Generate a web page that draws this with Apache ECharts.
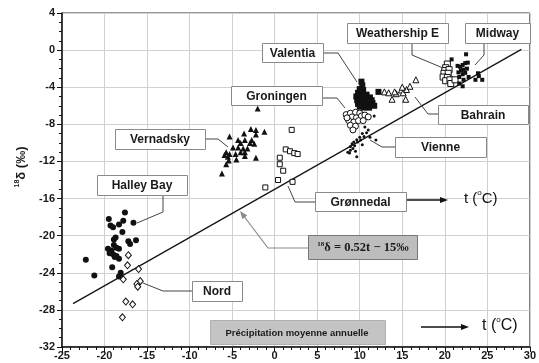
<!DOCTYPE html>
<html>
<head>
<meta charset="utf-8">
<script src="https://cdn.jsdelivr.net/npm/echarts@6/dist/echarts.min.js"></script>
<style>
  html, body { margin: 0; padding: 0; background: #fff; }
  #chart { width: 539px; height: 363px; }
</style>
</head>
<body>
<div id="chart"></div>
<script>
// Mean annual temperature (°C) vs. δ18O of precipitation (‰), by station
const xTicks = { min: -25, max: 30, step: 5 };
const yTicks = { min: -32, max: 4, step: 4 };

const halleyBay = [[-17.6,-17.5],[-19.5,-18.2],[-17.8,-18.4],[-16.6,-18.6],[-19.3,-18.9],[-19.0,-19.1],[-18.3,-18.8],
  [-17.9,-19.6],[-18.9,-20.4],[-18.7,-20.2],[-17.2,-20.6],[-16.3,-20.5],[-17.0,-20.9],[-19.6,-21.4],[-19.2,-21.6],
  [-18.6,-21.3],[-18.3,-21.4],[-19.0,-22.0],[-18.6,-22.2],[-18.3,-22.5],[-18.8,-22.3],[-22.2,-22.6],[-19.1,-23.4],
  [-18.1,-24.0],[-18.3,-24.4],[-21.2,-24.3],[-18.9,-21.0],[-19.4,-21.9]];
const nord = [[-17.2,-22.1],[-17.3,-23.2],[-16.0,-23.6],[-17.8,-24.7],[-15.8,-24.9],[-16.2,-25.2],[-16.1,-25.5],
  [-17.5,-27.1],[-16.7,-27.4],[-17.9,-28.8]];
const vernadsky = [[-2.0,-6.3],[-5.3,-9.3],[-2.8,-8.5],[-2.2,-8.6],[-1.2,-8.8],[-3.6,-9.0],[-2.2,-9.1],[-4.3,-9.7],
  [-3.5,-9.7],[-2.7,-9.7],[-4.0,-10.0],[-2.9,-10.0],[-2.4,-10.1],[-4.9,-10.5],[-4.3,-10.5],[-3.7,-10.6],[-3.2,-10.6],
  [-4.0,-11.0],[-3.5,-11.0],[-5.7,-11.0],[-5.3,-11.2],[-4.6,-11.2],[-5.9,-11.3],[-5.5,-11.5],[-3.5,-11.4],[-5.4,-11.9],
  [-4.5,-11.8],[-2.2,-11.6],[-5.7,-12.3],[-6.2,-13.3]];
const gronnedal = [[2.0,-8.6],[1.3,-10.7],[1.8,-10.9],[2.3,-11.1],[2.7,-11.2],[0.6,-11.6],[0.6,-12.3],[1.0,-13.0],
  [0.4,-14.0],[-1.1,-14.8],[2.1,-14.2]];
const groningen = [[8.4,-6.95],[8.9,-6.8],[9.5,-6.7],[10.0,-6.8],[9.1,-7.2],[9.6,-7.3],[10.2,-7.1],[8.7,-7.6],
  [9.3,-7.75],[9.85,-7.6],[8.9,-8.1],[9.5,-8.2],[9.2,-8.6],[10.6,-7.0],[11.0,-7.2],[8.5,-7.3],[10.4,-7.6]];
const valentia = [[10.2,-3.4],[10.3,-3.8],[10.0,-4.2],[10.4,-4.3],[9.8,-4.6],[10.3,-4.7],[10.8,-4.8],[9.6,-5.0],
  [10.1,-5.0],[10.6,-5.1],[11.2,-5.1],[9.7,-5.4],[10.2,-5.5],[10.7,-5.5],[11.4,-5.4],[9.8,-5.8],[10.3,-5.9],
  [10.9,-5.8],[11.5,-5.7],[10.5,-6.2],[11.1,-6.2],[11.7,-6.0],[10.0,-6.1],[12.2,-4.5]];
const vienne = [[10.6,-8.3],[11.0,-8.6],[11.7,-7.1],[10.3,-9.0],[10.8,-8.9],[10.0,-9.4],[10.5,-9.3],[9.65,-9.65],
  [10.1,-9.7],[9.3,-9.9],[9.75,-9.9],[9.1,-10.1],[9.4,-10.3],[8.9,-10.4],[9.2,-10.6],[8.9,-10.8],[8.8,-11.1],
  [9.65,-11.5],[11.9,-9.7],[11.2,-9.4],[9.5,-10.9],[10.3,-10.2],[8.6,-11.0]];
const bahrain = [[12.9,-4.5],[13.4,-4.6],[13.8,-5.3],[14.3,-4.7],[14.9,-4.3],[15.1,-4.6],[15.5,-4.25],[15.9,-3.9],
  [16.6,-3.2],[15.4,-5.3],[14.1,-4.5],[15.0,-4.0]];
const weathershipE = [[20.3,-1.5],[20.1,-1.9],[20.0,-2.2],[20.5,-2.1],[19.9,-2.5],[20.4,-2.5],[19.8,-2.9],[20.3,-2.95],
  [20.1,-3.3],[20.6,-3.2],[20.7,-3.6],[21.2,-3.2]];
const midway = [[20.8,-1.0],[22.5,-0.45],[21.5,-1.7],[21.8,-1.8],[22.1,-1.6],[22.4,-1.4],[22.7,-1.35],[21.9,-2.2],
  [22.2,-2.1],[22.6,-2.0],[21.6,-2.4],[22.4,-2.45],[22.1,-2.6],[21.7,-2.9],[23.9,-2.5],[22.2,-3.2],[23.6,-3.2],
  [24.4,-3.2],[21.7,-3.6],[22.1,-3.9],[22.8,-2.9],[24.0,-2.8]];

// Regression: δ18O = 0.52 t − 15 ‰
const fit = { slope: 0.52, intercept: -15, tFrom: -23.7, tTo: 29 };
const fitLine = [fit.tFrom, fit.tTo].map(t => [t, fit.slope * t + fit.intercept]);

const INK = '#111';
const LABEL_FONT = '"Liberation Sans", Arial, sans-serif';

function filled(name, data, symbol, size) {
  return { name, type: 'scatter', data, symbol, symbolSize: size, z: 3,
    itemStyle: { color: INK, opacity: 1 } };
}
function hollow(name, data, symbol, size) {
  return { name, type: 'scatter', data, symbol, symbolSize: size, z: 3,
    itemStyle: { color: '#fff', borderColor: INK, borderWidth: 1, opacity: 1 } };
}

const chart = echarts.init(document.getElementById('chart'), null, { renderer: 'canvas' });

// Station label boxes: [text, x1, y1, x2, y2]
const boxes = [
  ['Vernadsky', 115, 129, 205, 149],
  ['Halley Bay', 97, 175, 187, 195],
  ['Nord', 192, 281, 242, 301],
  ['Grønnedal', 315, 192, 406, 211],
  ['Valentia', 262, 43, 323, 62],
  ['Groningen', 231, 86, 322, 105],
  ['Weathership E', 347, 23, 448, 43],
  ['Midway', 465, 23, 530, 43],
  ['Bahrain', 438, 105, 528, 124],
  ['Vienne', 395, 137, 486, 157]
];
// Leader lines from boxes to their clusters
const leaders = [
  [[205,139],[218,139],[228,147]],
  [[163,195],[163,212],[137,223]],
  [[192,291],[163,291],[143,283]],
  [[315,202],[295,202],[288,186]],
  [[323,53],[338,53],[357,82]],
  [[322,98],[337,98],[345,108]],
  [[412,43],[412,55],[443,68]],
  [[484,43],[484,55],[475,65]],
  [[438,114],[428,114],[415,97]],
  [[395,147],[382,147],[370,140]]
];

function arrowHead(tip, from, len, half, color) {
  const dx = tip[0] - from[0], dy = tip[1] - from[1];
  const L = Math.hypot(dx, dy), ux = dx / L, uy = dy / L;
  const bx = tip[0] - ux * len, by = tip[1] - uy * len;
  return { type: 'polygon', z: 10, silent: true,
    shape: { points: [tip, [bx - uy * half, by + ux * half], [bx + uy * half, by - ux * half]] },
    style: { fill: color } };
}

const graphics = [];
boxes.forEach(([text, x1, y1, x2, y2]) => {
  graphics.push({ type: 'rect', z: 10, silent: true,
    shape: { x: x1 + 0.5, y: y1 + 0.5, width: x2 - x1, height: y2 - y1 },
    style: { fill: '#fff', stroke: '#8a8a8a', lineWidth: 1 } });
  graphics.push({ type: 'text', z: 11, silent: true,
    style: { text, x: (x1 + x2) / 2, y: (y1 + y2) / 2 + 1, align: 'center', verticalAlign: 'middle',
      font: 'bold 12px ' + LABEL_FONT, fill: '#1a1a1a' } });
});
leaders.forEach(pts => {
  graphics.push({ type: 'polyline', z: 9, silent: true, shape: { points: pts },
    style: { stroke: '#444', lineWidth: 1, fill: null } });
});

// Equation box with its grey pointer
graphics.push({ type: 'polyline', z: 9, silent: true, shape: { points: [[308,248],[268,248],[243,215]] },
  style: { stroke: '#8a8a8a', lineWidth: 1.2, fill: null } });
graphics.push(arrowHead([240,211], [268,248], 8, 3, '#8a8a8a'));
graphics.push({ type: 'rect', z: 10, silent: true, shape: { x: 308.5, y: 235.5, width: 109, height: 24 },
  style: { fill: '#bdbdbd', stroke: '#777', lineWidth: 1 } });
graphics.push({ type: 'text', z: 11, silent: true,
  style: { text: '{s|18}{m|δ = 0.52t − 15‰}', x: 363, y: 248, align: 'center', verticalAlign: 'middle',
    rich: {
      s: { font: 'bold 7px "Liberation Serif", serif', fill: '#1a1a1a', verticalAlign: 'top', padding: [0, 0, 8, 0] },
      m: { font: 'bold 12.5px "Liberation Serif", serif', fill: '#1a1a1a' }
    } } });

// Annual-mean caption box
graphics.push({ type: 'rect', z: 10, silent: true, shape: { x: 210.5, y: 320.5, width: 175, height: 24 },
  style: { fill: '#c4c4c4', stroke: '#b0b0b0', lineWidth: 1 } });
graphics.push({ type: 'text', z: 11, silent: true,
  style: { text: 'Précipitation moyenne annuelle', x: 297, y: 333, align: 'center', verticalAlign: 'middle',
    font: 'bold 9.5px ' + LABEL_FONT, fill: '#1a1a1a' } });

// Temperature direction arrows
function tArrow(x1, x2, y, tx, size) {
  graphics.push({ type: 'line', z: 9, silent: true, shape: { x1, y1: y, x2: x2 - 6, y2: y },
    style: { stroke: '#111', lineWidth: 1.3 } });
  graphics.push(arrowHead([x2, y], [x1, y], 8, 3, '#111'));
  graphics.push({ type: 'text', z: 11, silent: true,
    style: { text: '{a|t (}{o|o}{a|C)}', x: tx, y: y - 1, align: 'left', verticalAlign: 'middle',
      rich: {
        a: { font: size + 'px ' + LABEL_FONT, fill: '#111' },
        o: { font: Math.round(size * 0.5) + 'px ' + LABEL_FONT, fill: '#111', verticalAlign: 'top', padding: [0, 0, 13, 0] }
      } } });
}
tArrow(407, 448, 200, 464, 15);
tArrow(421, 469, 327, 482, 16);

// Y axis title
graphics.push({ type: 'text', z: 11, silent: true, x: 21, y: 167, rotation: Math.PI / 2,
  style: { text: '{s|18}{m|δ (‰)}', x: 0, y: 0, align: 'center', verticalAlign: 'middle',
    rich: {
      s: { font: 'bold 7px ' + LABEL_FONT, fill: '#1a1a1a', verticalAlign: 'top', padding: [0, 0, 8, 0] },
      m: { font: 'bold 13px ' + LABEL_FONT, fill: '#1a1a1a' }
    } } });

const option = {
  animation: false,
  backgroundColor: '#fff',
  grid: { left: 62, right: 5, top: 13, bottom: 16, show: true, borderColor: '#333', borderWidth: 1 },
  xAxis: {
    type: 'value', min: xTicks.min, max: xTicks.max, interval: xTicks.step,
    axisLine: { onZero: false, lineStyle: { color: '#111', width: 1.5 } },
    axisTick: { length: 5, lineStyle: { color: '#111' } },
    minorTick: { show: true, splitNumber: 5, length: 3, lineStyle: { color: '#111' } },
    splitLine: { lineStyle: { color: '#d0d0d0', width: 1 } },
    axisLabel: { margin: 3, color: '#1a1a1a', fontWeight: 'bold', fontSize: 11, fontFamily: LABEL_FONT }
  },
  yAxis: {
    type: 'value', min: yTicks.min, max: yTicks.max, interval: yTicks.step,
    axisLine: { onZero: false, lineStyle: { color: '#111', width: 1.5 } },
    axisTick: { length: 5, lineStyle: { color: '#111' } },
    minorTick: { show: true, splitNumber: 4, length: 3, lineStyle: { color: '#111' } },
    splitLine: { lineStyle: { color: '#d0d0d0', width: 1 } },
    axisLabel: { margin: 7, color: '#1a1a1a', fontWeight: 'bold', fontSize: 11, fontFamily: LABEL_FONT }
  },
  series: [
    { name: 'fit', type: 'line', data: fitLine, showSymbol: false, z: 2,
      lineStyle: { color: '#111', width: 1.2 } },
    filled('Halley Bay', halleyBay, 'circle', 6),
    hollow('Nord', nord, 'diamond', [6, 7]),
    filled('Vernadsky', vernadsky, 'triangle', 6),
    hollow('Grønnedal', gronnedal, 'rect', 5),
    hollow('Groningen', groningen, 'circle', 6),
    filled('Valentia', valentia, 'rect', 6),
    filled('Vienne', vienne, 'circle', 3),
    hollow('Bahrain', bahrain, 'triangle', 6),
    hollow('Weathership E', weathershipE, 'rect', 6),
    filled('Midway', midway, 'rect', 4)
  ],
  graphic: graphics
};
chart.setOption(option);
</script>
</body>
</html>
